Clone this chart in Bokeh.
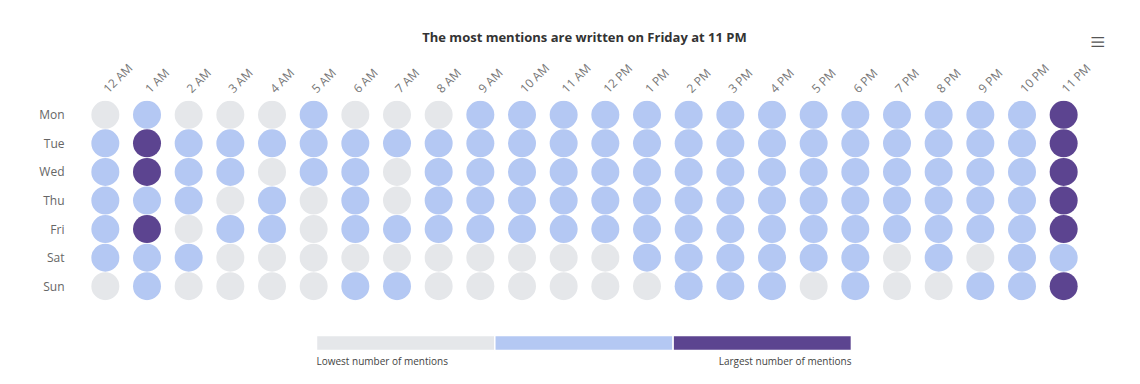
import math
from bokeh.plotting import figure
from bokeh.models import FactorRange, Range1d, LinearColorMapper, ColumnDataSource, Title
from bokeh.layouts import column
from bokeh.transform import transform
from bokeh.core.properties import value
from bokeh.embed import file_html
from bokeh.resources import INLINE

hours = ["12 AM", "1 AM", "2 AM", "3 AM", "4 AM", "5 AM", "6 AM", "7 AM", "8 AM", "9 AM",
         "10 AM", "11 AM", "12 PM", "1 PM", "2 PM", "3 PM", "4 PM", "5 PM", "6 PM", "7 PM",
         "8 PM", "9 PM", "10 PM", "11 PM"]
days = ["Mon", "Tue", "Wed", "Thu", "Fri", "Sat", "Sun"]

# level of mentions: 0 = low, 1 = medium, 2 = high
mon = [0, 1, 0, 0, 0, 1, 0, 0, 0, 1, 1, 1, 1, 1, 1, 1, 1, 1, 1, 1, 1, 1, 1, 2]
tue = [1, 2, 1, 1, 1, 1, 1, 1, 1, 1, 1, 1, 1, 1, 1, 1, 1, 1, 1, 1, 1, 1, 1, 2]
wed = [1, 2, 1, 1, 0, 1, 1, 0, 1, 1, 1, 1, 1, 1, 1, 1, 1, 1, 1, 1, 1, 1, 1, 2]
thu = [1, 1, 1, 0, 1, 0, 1, 0, 1, 1, 1, 1, 1, 1, 1, 1, 1, 1, 1, 1, 1, 1, 1, 2]
fri = [1, 2, 0, 1, 1, 0, 1, 1, 1, 1, 1, 1, 1, 1, 1, 1, 1, 1, 1, 1, 1, 1, 1, 2]
sat = [1, 1, 1, 0, 0, 0, 0, 0, 0, 0, 0, 0, 0, 1, 1, 1, 1, 1, 1, 0, 1, 0, 1, 1]
sun = [0, 1, 0, 0, 0, 0, 1, 1, 0, 0, 0, 0, 0, 0, 1, 1, 1, 0, 1, 0, 0, 1, 1, 2]

palette = ["#e5e7ea", "#b4c8f3", "#5c4490"]
legend_labels = ["Lowest number of mentions", "Largest number of mentions"]
title_text = "The most mentions are written on Friday at 11 PM"

rows = [mon, tue, wed, thu, fri, sat, sun]
xs, ys, lv = [], [], []
for d, row in zip(days, rows):
    for h, v in zip(hours, row):
        xs.append(h)
        ys.append(d)
        lv.append(v)
src = ColumnDataSource(dict(hour=xs, day=ys, level=lv))
mapper = LinearColorMapper(palette=palette, low=0, high=len(palette) - 1)

BL, BR = 84, 56
p = figure(width=1140, height=313, x_range=FactorRange(*hours),
           y_range=FactorRange(*days[::-1]), x_axis_location="above",
           output_backend="svg", toolbar_location=None,
           min_border_top=100, min_border_bottom=13, min_border_left=BL,
           min_border_right=BR)
p.title.text = title_text
p.title.align = "center"
p.title.text_font = "Open Sans"
p.title.text_font_size = "13px"
p.title.text_font_style = "bold"
p.title.text_color = "#333333"
p.outline_line_color = None
p.grid.grid_line_color = None
for ax in (p.xaxis[0], p.yaxis[0]):
    ax.axis_line_color = None
    ax.major_tick_line_color = None
    ax.minor_tick_line_color = None
    ax.major_label_text_font = "Open Sans"
    ax.major_label_text_font_size = "12px"
    ax.major_label_text_color = "#666666"
p.xaxis.major_label_text_color = "#777777"
p.xaxis.major_label_orientation = math.pi / 4
p.xaxis.major_label_standoff = 4
p.yaxis.major_label_standoff = 14

p.scatter(x="hour", y="day", source=src, size=28, marker="circle",
          fill_color=transform("level", mapper), line_color=None)

# export-menu icon: three bars, drawn as a rotated title in the right-hand panel
menu = Title(text="|||", align="left", offset=-65, standoff=11, vertical_align="middle",
             text_font="DejaVu Sans", text_font_style="bold", text_font_size="12px",
             text_color="#555555")
p.add_layout(menu, "right")

# legend strip
leg = figure(width=1140, height=71, x_range=Range1d(-1.301, 4.307), y_range=Range1d(0, 71),
             output_backend="svg", toolbar_location=None, x_axis_type=None, y_axis_type=None,
             min_border_left=BL, min_border_right=BR, min_border_top=0, min_border_bottom=0)
leg.outline_line_color = None
leg.grid.grid_line_color = None
idx = list(range(len(palette)))
leg.quad(left=idx, right=[i + 1 for i in idx], bottom=34, top=49, fill_color=palette,
         line_color="white", line_width=1.5)
leg.text(x=[0, len(palette)], y=[24, 24], text=legend_labels, text_align=["left", "right"],
         text_baseline="middle", text_font=value("Open Sans"), text_font_size="10px",
         text_color="#444444")

layout = column(p, leg, spacing=0)
open("out.html", "w").write(file_html(layout, INLINE))
